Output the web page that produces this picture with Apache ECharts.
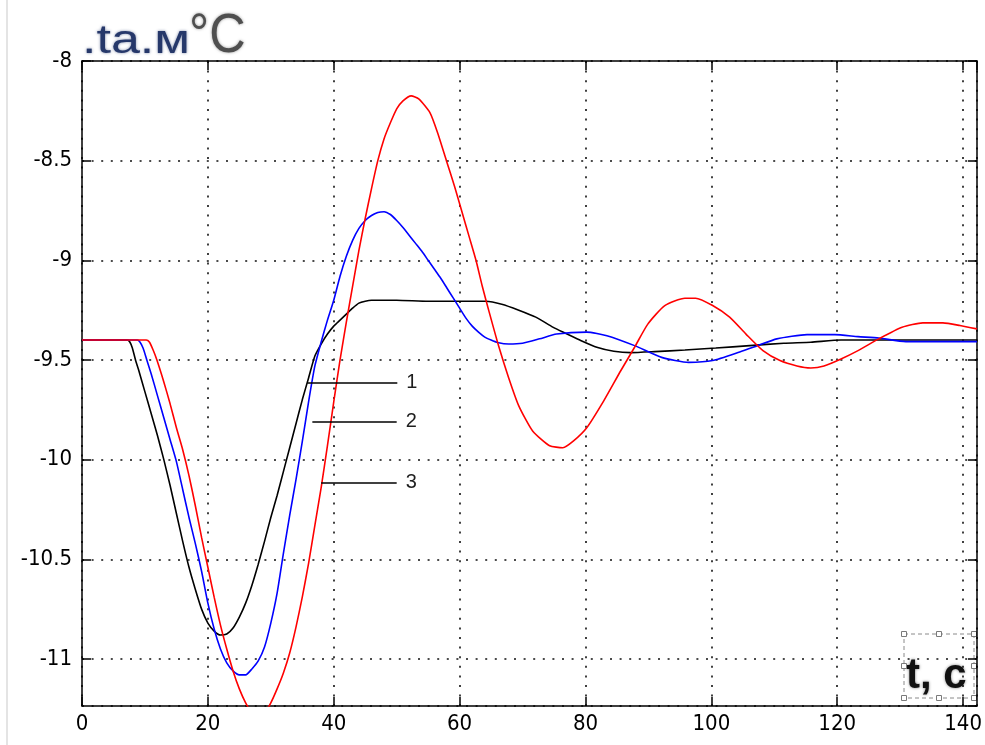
<!DOCTYPE html>
<html>
<head>
<meta charset="utf-8">
<script src="https://cdn.jsdelivr.net/npm/echarts@6/dist/echarts.min.js"></script>
<style>
  html, body { margin: 0; padding: 0; background: #fff; }
  #chart { width: 985px; height: 745px; }
</style>
</head>
<body>
<div id="chart"></div>
<script>
// Air temperature response ta.м (°C) over time t (s) for three regulator settings.
const tBlack = [0, 7.2, 7.6, 8.0, 8.5, 9,
  10, 11, 12, 13, 14, 15, 16, 17, 18, 19, 20, 21, 22, 23, 24, 25, 26, 27, 28, 29,
  30, 31, 32, 33, 34, 35, 36, 37, 38, 39, 40, 41, 42, 43, 44, 45, 46,
  50, 55, 60, 64.2, 66.7, 69.4, 72.1, 74.8, 76.4, 79.1, 81.8, 84.5, 87.2, 91,
  95.8, 100.7, 106.1, 111.5, 115.8, 120.6, 126, 142.2];
const vBlack = [-9.4, -9.4, -9.41, -9.44, -9.5, -9.55,
  -9.66, -9.77, -9.88, -10.0, -10.13, -10.27, -10.41, -10.54, -10.65, -10.75,
  -10.82, -10.86, -10.88, -10.875, -10.845, -10.79, -10.72, -10.63, -10.525, -10.41,
  -10.29, -10.18, -10.06, -9.94, -9.82, -9.70, -9.59, -9.48, -9.42, -9.37,
  -9.33, -9.30, -9.27, -9.24, -9.215, -9.205, -9.2,
  -9.2, -9.205, -9.205, -9.205, -9.22, -9.25, -9.285, -9.335, -9.36, -9.40,
  -9.436, -9.456, -9.463, -9.458, -9.45, -9.44, -9.428, -9.416, -9.411, -9.40,
  -9.40, -9.40];

const tBlue = [0, 8.8, 9.2, 9.7, 10.3,
  11, 12, 13, 14, 15, 16, 17, 18, 19, 20, 21, 22, 23, 24, 25, 26, 27, 28, 29, 30,
  31, 32, 33, 34, 35, 36, 37, 38, 39, 40, 41, 42, 43, 44, 45, 46, 47, 48, 49, 50,
  51, 52, 53, 54, 55, 56, 57, 58, 59, 60, 61, 62, 63, 64, 65, 66, 67.8, 70, 72.7,
  75.4, 80.2, 83.4, 87.8, 92.1, 96.4, 100.2, 104.5, 107.2, 110.4, 115.2, 119.6,
  123.3, 126.6, 130.9, 142.2];
const vBlue = [-9.4, -9.4, -9.41, -9.44, -9.5,
  -9.57, -9.68, -9.79, -9.9, -10.01, -10.15, -10.29, -10.42, -10.56, -10.72,
  -10.85, -10.95, -11.02, -11.06, -11.08, -11.08, -11.05, -11.01, -10.94, -10.82,
  -10.67, -10.47, -10.28, -10.1, -9.91, -9.71, -9.53, -9.41, -9.3, -9.2,
  -9.08, -8.98, -8.9, -8.84, -8.8, -8.775, -8.76, -8.756, -8.77, -8.80,
  -8.835, -8.875, -8.915, -8.955, -9.0, -9.045, -9.09, -9.14, -9.19, -9.24,
  -9.29, -9.33, -9.36, -9.385, -9.40, -9.412, -9.42, -9.416, -9.394,
  -9.37, -9.36, -9.378, -9.428, -9.487, -9.512, -9.503, -9.46, -9.43, -9.394,
  -9.373, -9.373, -9.383, -9.39, -9.408, -9.408];

const tRed = [0, 10.2, 10.7, 11.3, 11.9,
  13, 14, 15, 16, 17, 18, 19, 20, 21, 22, 23, 24, 25, 26, 27, 28, 29, 30, 31, 32,
  33, 34, 35, 36, 37, 38, 39, 40, 41, 42, 43, 44, 45, 46, 47, 48, 49, 50, 51,
  52.3, 53.5, 55.3, 56.5, 57.9, 59.2, 60.4, 61.5, 62.6, 63.6, 64.7, 66.2, 67.8,
  69.4, 71.6, 74.3, 76.4, 78.1, 80.2, 82.9, 85.6, 87.8, 89.9, 92.6, 95.8, 97.5,
  100.2, 102.9, 105.5, 108.2, 110.9, 113.6, 115.8, 117.9, 120.6, 123.3, 126.6,
  130.3, 133.6, 136.8, 139.5, 142.2];
const vRed = [-9.4, -9.4, -9.41, -9.45, -9.5,
  -9.61, -9.72, -9.84, -9.95, -10.08, -10.23, -10.39, -10.54, -10.69, -10.83,
  -10.95, -11.06, -11.15, -11.22, -11.27, -11.29, -11.27, -11.22, -11.15, -11.07,
  -10.97, -10.84, -10.69, -10.52, -10.33, -10.14, -9.93, -9.71, -9.5, -9.31,
  -9.13, -8.95, -8.79, -8.64, -8.5, -8.39, -8.31, -8.24, -8.2,
  -8.175, -8.19, -8.26, -8.36, -8.5, -8.63, -8.76, -8.88, -9.0, -9.13, -9.26,
  -9.43, -9.59, -9.73, -9.856, -9.93, -9.94, -9.906, -9.84, -9.705, -9.554,
  -9.436, -9.32, -9.227, -9.19, -9.19, -9.227, -9.285, -9.37, -9.453, -9.503,
  -9.53, -9.54, -9.53, -9.495, -9.453, -9.394, -9.336, -9.314, -9.314, -9.327,
  -9.344];

// Axis ranges and tick step
const xMin = 0, xMax = 142.2, xStep = 20;
const yMin = -11.236, yMax = -8;

const pairs = (t, v) => t.map((x, i) => [x, v[i]]);

const tickFont = "'Liberation Sans Narrow','DejaVu Sans Condensed','Liberation Sans',sans-serif";
const axisColor = '#000';

function leader(label, x0, x1, y) {
  return {
    silent: true,
    symbol: ['none', 'none'],
    lineStyle: { color: '#000', width: 1.5, type: 'solid' },
    label: {
      show: true, position: 'end', distance: 9, formatter: label,
      color: '#1e1e1e', fontSize: 20,
      fontFamily: "'Liberation Sans',Arial,sans-serif"
    },
    emphasis: { disabled: true },
    data: [[{ coord: [x0, y] }, { coord: [x1, y] }]]
  };
}

const chart = echarts.init(document.getElementById('chart'), null, { renderer: 'canvas' });

chart.setOption({
  backgroundColor: '#fff',
  animation: false,
  grid: { left: 82, right: 7, top: 61, bottom: 39 },
  xAxis: [{
    type: 'value', min: xMin, max: xMax, interval: xStep, position: 'bottom',
    axisLine: { show: true, onZero: false, lineStyle: { color: axisColor, width: 1.5 } },
    axisTick: { show: true, inside: true, length: 9, lineStyle: { color: axisColor, width: 1.5 } },
    axisLabel: { show: true, showMaxLabel: false, margin: 7, color: '#000', fontSize: 22, fontFamily: tickFont },
    splitLine: { show: true, lineStyle: { color: '#111', width: 1.6, type: [2, 7.6] } }
  }, {
    type: 'value', min: xMin, max: xMax, interval: xStep, position: 'top',
    axisLine: { show: true, onZero: false, lineStyle: { color: axisColor, width: 1.5 } },
    axisTick: { show: true, inside: true, length: 9, lineStyle: { color: axisColor, width: 1.5 } },
    axisLabel: { show: false },
    splitLine: { show: false }
  }],
  yAxis: [{
    type: 'value', min: yMin, max: yMax, position: 'left',
    axisLine: { show: true, onZero: false, lineStyle: { color: axisColor, width: 1.5 } },
    axisTick: { show: true, inside: true, length: 9, lineStyle: { color: axisColor, width: 1.5 } },
    axisLabel: { show: true, showMinLabel: false, margin: 10, color: '#000', fontSize: 22, fontFamily: tickFont },
    splitLine: { show: true, lineStyle: { color: '#111', width: 1.6, type: [2, 7.6] } }
  }, {
    type: 'value', min: yMin, max: yMax, position: 'right',
    axisLine: { show: true, onZero: false, lineStyle: { color: axisColor, width: 1.5 } },
    axisTick: { show: true, inside: true, length: 9, lineStyle: { color: axisColor, width: 1.5 } },
    axisLabel: { show: false },
    splitLine: { show: false }
  }],
  series: [{
    name: '1', type: 'line', data: pairs(tBlack, vBlack), showSymbol: false, smooth: 0.2,
    lineStyle: { color: '#000', width: 1.6 }, itemStyle: { color: '#000' },
    markLine: leader('1', 35.8, 50.1, -9.615)
  }, {
    name: '2', type: 'line', data: pairs(tBlue, vBlue), showSymbol: false, smooth: 0.2,
    lineStyle: { color: '#0000ff', width: 1.6 }, itemStyle: { color: '#0000ff' },
    markLine: leader('2', 36.6, 50.0, -9.81)
  }, {
    name: '3', type: 'line', data: pairs(tRed, vRed), showSymbol: false, smooth: 0.2,
    lineStyle: { color: '#ff0000', width: 1.6 }, itemStyle: { color: '#ff0000' },
    markLine: leader('3', 38.0, 50.0, -10.116)
  }],
  graphic: [
    // window edge on the left
    { type: 'line', shape: { x1: 7, y1: 0, x2: 7, y2: 745 }, style: { stroke: '#e4e4e4', lineWidth: 2 }, silent: true },
    // y-axis title
    {
      type: 'text', x: 82, y: 42, scaleX: 1.3,
      style: {
        text: '.ta.м', font: "40px 'Liberation Sans',Arial,sans-serif", fill: '#26386a',
        textVerticalAlign: 'middle', textShadowColor: 'rgba(38,56,106,0.6)', textShadowBlur: 3
      }, silent: true
    },
    {
      type: 'text', x: 189, y: 37, scaleX: 0.9,
      style: {
        text: '°C', font: "56px 'Liberation Sans',Arial,sans-serif", fill: '#4f4f4f',
        textVerticalAlign: 'middle', textShadowColor: 'rgba(80,80,80,0.6)', textShadowBlur: 3
      }, silent: true
    },
    // x-axis title in its selection frame
    {
      type: 'rect', shape: { x: 904, y: 634, width: 70, height: 64 },
      style: { fill: '#fff', stroke: '#8a8a8a', lineWidth: 1, lineDash: [4, 3] }, silent: true
    },
    {
      type: 'text', x: 906, y: 676,
      style: {
        text: 't, с', font: "bold 42px 'Liberation Sans',Arial,sans-serif", fill: '#111',
        textVerticalAlign: 'middle', textShadowColor: 'rgba(0,0,0,0.5)', textShadowBlur: 3
      }, silent: true
    },
    ...[[904, 634], [939, 634], [974, 634], [904, 666], [974, 666], [904, 698], [939, 698], [974, 698]].map(p => ({
      type: 'rect', shape: { x: p[0] - 2.5, y: p[1] - 2.5, width: 5, height: 5 },
      style: { fill: '#fff', stroke: '#7a7a7a', lineWidth: 1 }, silent: true
    }))
  ]
});
</script>
</body>
</html>
